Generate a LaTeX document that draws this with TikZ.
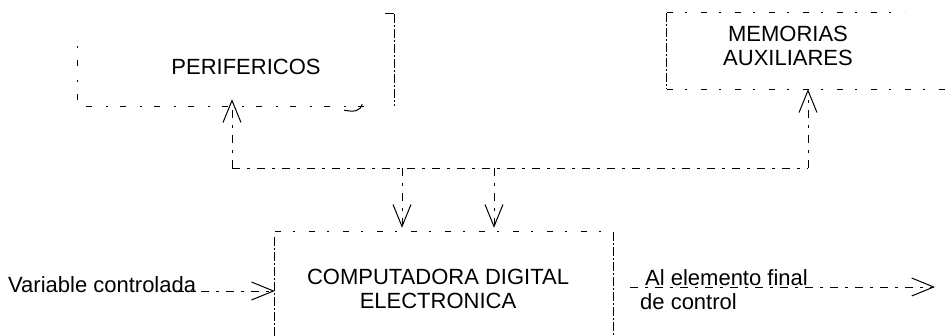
\documentclass[tikz,border=0pt]{standalone}
\usepackage{fontspec}
\setmainfont{Liberation Sans}
\usetikzlibrary{arrows.meta,calc}
\begin{document}
\begin{tikzpicture}[x=1pt,y=-1pt,
  lbl/.style={font=\fontsize{22}{24}\selectfont, align=center, inner sep=0pt},
  boxarea/.style={draw=none, inner sep=0pt},
  edge/.style={line width=1pt, dash pattern=on 9pt off 2pt on 2pt off 2pt},
  sparse/.style={line width=1pt, dash pattern=on 6pt off 12pt on 2pt off 14pt},
  conn/.style={line width=0.9pt, dash pattern=on 8pt off 7pt on 3pt off 7pt},
  tip/.style={-{Straight Barb[length=22pt,width=18pt,line width=1pt]}}
]
\useasboundingbox (0,0) rectangle (946,336);

% box areas
\node[boxarea, minimum width=316pt, minimum height=92pt] (per) at (236,60) {};
\node[boxarea, minimum width=279pt, minimum height=76pt] (mem) at (806.5,51) {};
\node[boxarea, minimum width=338pt, minimum height=116pt] (comp) at (444,290) {};

% texts
\node[lbl] (pertxt) at (246,67) {PERIFERICOS};
\node[lbl] (memtxt) at (788,46) {MEMORIAS\\AUXILIARES};
\node[lbl] (comptxt) at (438,289) {COMPUTADORA DIGITAL\\ELECTRONICA};
\node[lbl, anchor=west] (var) at (8,285) {Variable controlada};
\node[lbl, align=left, anchor=west] (final) at (640,290) {\hspace*{5pt}Al elemento final\\de control};

% PERIFERICOS box edges
\draw[edge] (per.north east) -- (per.south east);
\draw[edge] (per.north east) -- +(-10,0);
\draw[sparse] ($(per.south east)+(-30,0)$) -- (per.south west);
\draw[sparse] ($(per.south west)+(0,-6)$) -- ($(per.north west)+(0,28)$);
\draw[line width=1pt] ($(per.south east)+(-50,4)$) .. controls ($(per.south east)+(-40,6)$) and ($(per.south east)+(-34,5)$) .. ($(per.south east)+(-32,-2)$);

% MEMORIAS box edges
\draw[edge] (mem.north west) -- (mem.south west);
\draw[sparse] (mem.north west) -- ($(mem.north west)+(238,0)$);
\draw[sparse] (mem.south west) -- (mem.south east);

% COMPUTADORA box edges
\draw[edge] ($(comp.north west)+(0,5)$) -- (comp.south west);
\draw[edge] (comp.north east) -- (comp.south east);
\draw[sparse] (comp.north west) -- (comp.north east);

% bus
\coordinate (busL) at (232,168);
\coordinate (busR) at (808,168);
\coordinate (busA) at (402,168);
\coordinate (busB) at (494,168);
\draw[conn] (busL) -- (busR);
\draw[conn, tip, shorten >=-7pt] (busL) -- (busL |- per.south);
\draw[conn, tip] (busR) -- (busR |- mem.south);
\draw[conn, tip, shorten >=4pt] (busA) -- (busA |- comp.north);
\draw[conn, tip, shorten >=4pt] (busB) -- (busB |- comp.north);

% input and output
\coordinate (inS) at ($(var.east)+(-20,6)$);
\draw[conn, tip] (inS) -- (inS -| comp.west);
\coordinate (outS) at ($(comp.east)+(17,-3)$);
\coordinate (outE) at (935,287);
\draw[conn, tip] (outS) -- (outE);
\end{tikzpicture}
\end{document}
